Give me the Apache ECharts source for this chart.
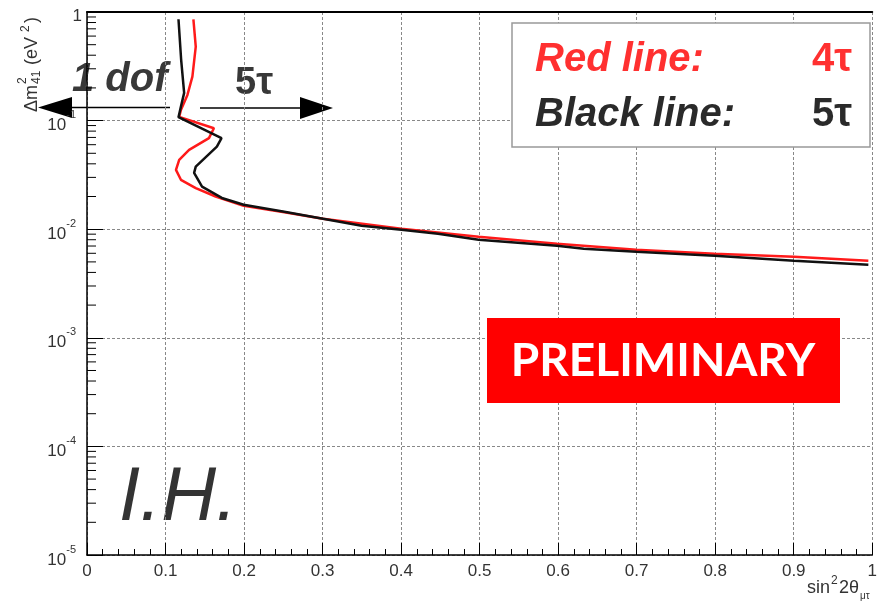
<!DOCTYPE html>
<html>
<head>
<meta charset="utf-8">
<script src="https://cdn.jsdelivr.net/npm/echarts@6/dist/echarts.min.js"></script>
<style>
  html, body { margin: 0; padding: 0; background: #fff; }
  #chart { width: 880px; height: 604px; }
</style>
</head>
<body>
<div id="chart"></div>
<script>
// Sensitivity contours in the (sin^2 2theta_mutau, dm^2_41) plane, inverted hierarchy
const redX = [0.1355, 0.1385, 0.1342, 0.1279, 0.1196, 0.1174, 0.1616, 0.1553, 0.130, 0.1174, 0.1133, 0.1196, 0.1385, 0.1638, 0.1995, 0.2513, 0.3005, 0.4003, 0.4987, 0.5985, 0.6995, 0.7992, 0.9003, 0.995];
const redY = [0.857, 0.480, 0.254, 0.1723, 0.1254, 0.1081, 0.0851, 0.0689, 0.0537, 0.0435, 0.0352, 0.0285, 0.0239, 0.0200, 0.0164, 0.0143, 0.01247, 0.01009, 0.00851, 0.00734, 0.00646, 0.00594, 0.00557, 0.00512];

const blackX = [0.1165, 0.1199, 0.1237, 0.1196, 0.1165, 0.1713, 0.1654, 0.1385, 0.1364, 0.1465, 0.1717, 0.1995, 0.2513, 0.3005, 0.3497, 0.4003, 0.447, 0.4987, 0.5985, 0.6326, 0.6995, 0.7992, 0.9003, 0.995];
const blackY = [0.857, 0.362, 0.180, 0.1345, 0.1075, 0.0689, 0.0576, 0.0377, 0.0330, 0.0247, 0.0194, 0.0168, 0.01445, 0.01247, 0.01075, 0.00987, 0.00907, 0.00798, 0.00703, 0.00660, 0.00620, 0.00569, 0.00512, 0.00470];

// log-axis minor tick positions: mantissa x 10^decade
const minorMantissas = [2, 3, 4, 5, 6, 7, 8, 9];
const minorDecades = [-5, -4, -3, -2, -1];

const zip = (xs, ys) => xs.map((x, i) => [x, ys[i]]);
const minorTickValues = [];
minorDecades.forEach(d => minorMantissas.forEach(m => minorTickValues.push([0, m * Math.pow(10, d)])));

const chart = echarts.init(document.getElementById('chart'));
const gridLine = { show: true, lineStyle: { color: '#888', width: 1, type: [3, 2] } };
const txt = '#333';

chart.setOption({
  animation: false,
  backgroundColor: '#fff',
  grid: { left: 87, right: 1, top: 12, bottom: 49 },
  xAxis: [{
    type: 'value', min: 0, max: 1, interval: 0.1,
    axisLine: { lineStyle: { color: '#000', width: 1.5 } },
    axisTick: { inside: true, length: 12, lineStyle: { color: '#000' } },
    minorTick: { show: true, splitNumber: 5, length: 6, lineStyle: { color: '#000' } },
    splitLine: gridLine,
    axisLabel: { color: txt, fontSize: 17, fontFamily: 'Liberation Sans', margin: 8 }
  }, {
    type: 'value', min: 0, max: 1, position: 'top',
    axisLine: { show: true, lineStyle: { color: '#000', width: 2 } },
    axisTick: { show: false }, axisLabel: { show: false }, splitLine: { show: false }
  }],
  yAxis: {
    type: 'log', logBase: 10, min: 1e-5, max: 1,
    axisLine: { show: true, lineStyle: { color: '#000', width: 1.5 } },
    axisTick: { show: true, inside: true, length: 16, lineStyle: { color: '#000' } },
    splitLine: gridLine,
    axisLabel: {
      margin: 5,
      fontFamily: 'Liberation Sans',
      formatter: v => {
        const e = Math.round(Math.log10(v));
        return e === 0 ? '{o|1}' : '{b|10}{s|' + e + '}{g| }';
      },
      rich: {
        o: { fontSize: 17, color: txt, padding: [8, 0, 0, 0], fontFamily: 'Liberation Sans' },
        b: { fontSize: 17, color: txt, lineHeight: 20, padding: [10, 0, 0, 0], fontFamily: 'Liberation Sans' },
        s: { fontSize: 11, color: txt, lineHeight: 22, verticalAlign: 'top', fontFamily: 'Liberation Sans' },
        g: { fontSize: 11, width: 6 }
      }
    }
  },
  series: [{
    name: '4tau', type: 'line', data: zip(redX, redY), showSymbol: false,
    lineStyle: { color: '#ff1a1a', width: 2.5 }, z: 3
  }, {
    name: '5tau', type: 'line', data: zip(blackX, blackY), showSymbol: false,
    lineStyle: { color: '#111', width: 2.5 }, z: 4
  }, {
    type: 'custom', data: minorTickValues, silent: true, z: 5,
    renderItem: (params, api) => {
      const p = api.coord([api.value(0), api.value(1)]);
      return { type: 'line', shape: { x1: p[0], y1: p[1], x2: p[0] + 9, y2: p[1] }, style: { stroke: '#000', lineWidth: 1 } };
    }
  }],
  graphic: [
    // y-axis title, reading bottom to top
    {
      type: 'group', x: 32, y: 112, rotation: Math.PI / 2,
      children: [
        { type: 'text', x: 0, y: 0, style: { text: 'Δm', font: '18px "Liberation Sans"', fill: txt, verticalAlign: 'middle' } },
        { type: 'text', x: 28, y: -9, style: { text: '2', font: '12px "Liberation Sans"', fill: txt, verticalAlign: 'middle' } },
        { type: 'text', x: 28, y: 5, style: { text: '41', font: '12px "Liberation Sans"', fill: txt, verticalAlign: 'middle' } },
        { type: 'text', x: 47, y: 0, style: { text: '(eV', font: '18px "Liberation Sans"', fill: txt, verticalAlign: 'middle' } },
        { type: 'text', x: 80, y: -6, style: { text: '2', font: '12px "Liberation Sans"', fill: txt, verticalAlign: 'middle' } },
        { type: 'text', x: 89, y: 0, style: { text: ')', font: '18px "Liberation Sans"', fill: txt, verticalAlign: 'middle' } }
      ]
    },
    // x-axis title
    { type: 'text', x: 807, y: 588, style: { text: 'sin', font: '18px "Liberation Sans"', fill: txt, verticalAlign: 'middle' } },
    { type: 'text', x: 831, y: 581, style: { text: '2', font: '12px "Liberation Sans"', fill: txt, verticalAlign: 'middle' } },
    { type: 'text', x: 839, y: 588, style: { text: '2θ', font: '18px "Liberation Sans"', fill: txt, verticalAlign: 'middle' } },
    { type: 'text', x: 860, y: 596, style: { text: 'μτ', font: '10px "Liberation Sans"', fill: txt, verticalAlign: 'middle' } },
    // "1 dof" and "5 tau" arrows
    { type: 'polygon', shape: { points: [[38, 107.5], [72, 97], [72, 118]] }, style: { fill: '#000' } },
    { type: 'line', shape: { x1: 72, y1: 107.5, x2: 170, y2: 107.5 }, style: { stroke: '#000', lineWidth: 1.5 } },
    { type: 'line', shape: { x1: 200, y1: 108, x2: 300, y2: 108 }, style: { stroke: '#000', lineWidth: 1.5 } },
    { type: 'polygon', shape: { points: [[300, 97], [300, 119], [333, 108]] }, style: { fill: '#000' } },
    { type: 'text', x: 72, y: 80, style: { text: '1 dof', font: 'italic bold 40px "Liberation Sans"', fill: '#383838', verticalAlign: 'middle' } },
    { type: 'text', x: 235, y: 84, style: { text: '5τ', font: 'bold 38px "Liberation Sans"', fill: '#383838', verticalAlign: 'middle' } },
    // legend box
    { type: 'rect', shape: { x: 512, y: 23, width: 358, height: 124 }, style: { fill: '#fff', stroke: '#999', lineWidth: 1.5 }, z: 10 },
    { type: 'text', x: 535, y: 60, z: 11, style: { text: 'Red line:', font: 'italic bold 40px "Liberation Sans"', fill: '#ff3030', verticalAlign: 'middle' } },
    { type: 'text', x: 852, y: 60, z: 11, style: { text: '4τ', font: 'bold 40px "Liberation Sans"', fill: '#ff3030', align: 'right', verticalAlign: 'middle' } },
    { type: 'text', x: 535, y: 115, z: 11, style: { text: 'Black line:', font: 'italic bold 40px "Liberation Sans"', fill: '#2a2a2a', verticalAlign: 'middle' } },
    { type: 'text', x: 852, y: 115, z: 11, style: { text: '5τ', font: 'bold 40px "Liberation Sans"', fill: '#2a2a2a', align: 'right', verticalAlign: 'middle' } },
    // preliminary banner
    { type: 'rect', shape: { x: 487, y: 318, width: 353, height: 85 }, style: { fill: '#ff0000' }, z: 10 },
    { type: 'text', x: 663, y: 361, z: 11, style: { text: 'PRELIMINARY', font: 'bold 46px Lato', fill: '#fff', align: 'center', verticalAlign: 'middle' } },
    // hierarchy tag
    { type: 'text', x: 119, y: 499, style: { text: 'I.H.', font: 'italic 76px "Liberation Sans"', fill: '#333', verticalAlign: 'middle' } }
  ]
});
</script>
</body>
</html>
